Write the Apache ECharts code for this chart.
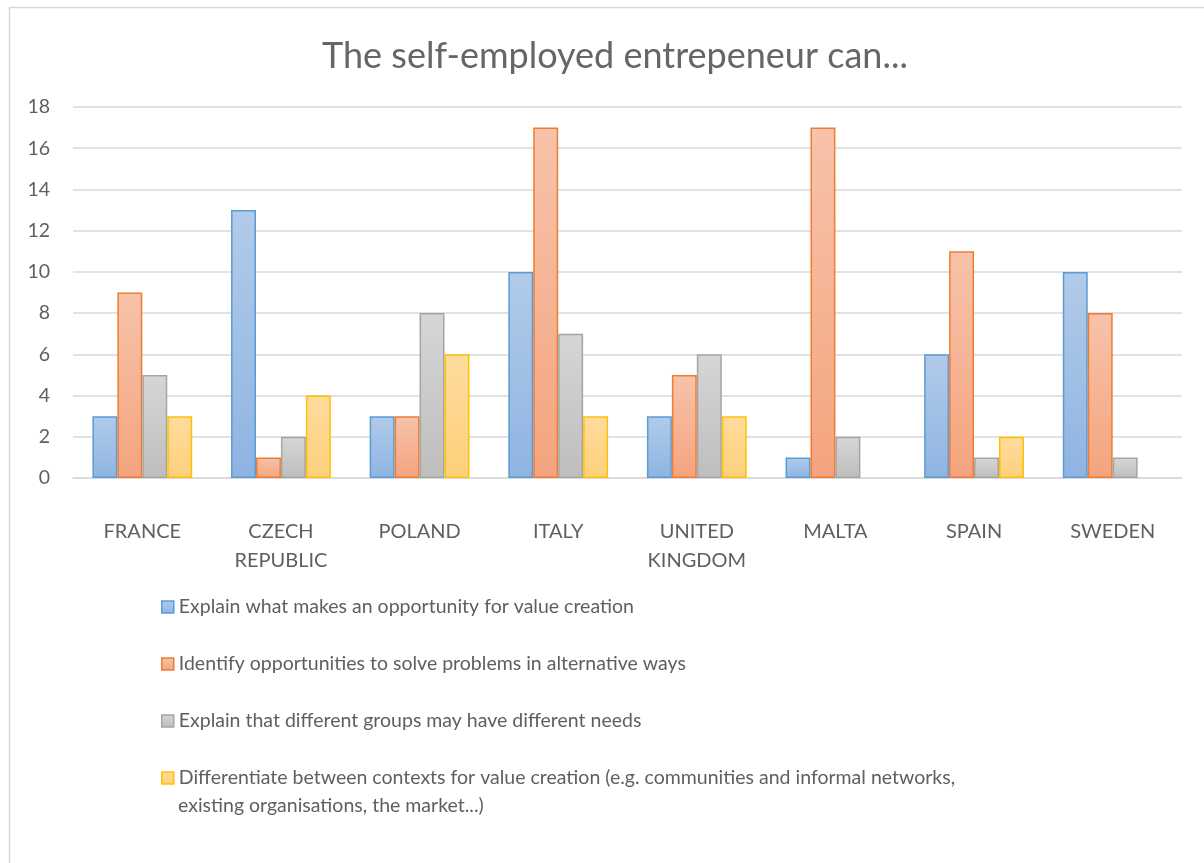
<!DOCTYPE html>
<html>
<head>
<meta charset="utf-8">
<script src="https://cdn.jsdelivr.net/npm/echarts@6/dist/echarts.min.js"></script>
<style>
  html, body { margin: 0; padding: 0; background: #fff; }
  #chart { width: 1204px; height: 863px; }
</style>
</head>
<body>
<div id="chart"></div>
<script>
// Countries surveyed
const countries = ['FRANCE', 'CZECH\nREPUBLIC', 'POLAND', 'ITALY', 'UNITED\nKINGDOM', 'MALTA', 'SPAIN', 'SWEDEN'];

// Statement labels
const seriesNames = [
  'Explain what makes an opportunity for value creation',
  'Identify opportunities to solve problems in alternative ways',
  'Explain that different groups may have different needs',
  'Differentiate between contexts for value creation (e.g. communities and informal networks, existing organisations, the market...)'
];
// The long statement is set on two lines, with the marker beside the first one
const longLineBreak = 'networks, ';

// Answer counts per country
const explainOpportunity = [3, 13, 3, 10, 3, 1, 6, 10];
const identifyAlternatives = [9, 1, 3, 17, 5, 17, 11, 8];
const differentNeeds = [5, 2, 8, 7, 6, 2, 1, 1];
const differentiateContexts = [3, 4, 6, 3, 3, null, 2, null];

const yTicks = [0, 2, 4, 6, 8, 10, 12, 14, 16, 18];

const FONT = 'Lato, "Open Sans", sans-serif';
const TEXT = '#5f5f5f';
const LEGEND_SIZE = 19.5;

const palette = [
  { top: '#b1cbe9', bottom: '#8fb4e2', border: '#5b9bd5' },
  { top: '#f7c3aa', bottom: '#f4a47e', border: '#ed7d31' },
  { top: '#d6d6d6', bottom: '#bebebe', border: '#a5a5a5' },
  { top: '#ffdc9e', bottom: '#fdd07a', border: '#ffc000' }
];

function grad(p) {
  return new echarts.graphic.LinearGradient(0, 0, 0, 1, [
    { offset: 0, color: p.top },
    { offset: 1, color: p.bottom }
  ]);
}

const dataSets = [explainOpportunity, identifyAlternatives, differentNeeds, differentiateContexts];

const series = dataSets.map((d, i) => ({
  name: seriesNames[i],
  type: 'bar',
  data: d,
  barGap: '0%',
  barCategoryGap: '28%',
  itemStyle: {
    color: grad(palette[i]),
    borderColor: palette[i].border,
    borderWidth: 1.5
  },
  emphasis: { disabled: true }
}));

function splitLong(name) {
  const k = name.indexOf(longLineBreak);
  if (k < 0) return [name, ''];
  return [name.slice(0, k + longLineBreak.length - 1), name.slice(k + longLineBreak.length)];
}

// One legend block per statement, stacked down the page
const legendTops = [588, 645, 702, 759];
const LEGEND_LEFT = 156;
const legends = seriesNames.map((name, i) => ({
  data: [name],
  orient: 'vertical',
  left: LEGEND_LEFT,
  top: legendTops[i],
  itemWidth: 12,
  itemHeight: 12,
  icon: 'rect',
  selectedMode: false,
  formatter: (n) => splitLong(n)[0],
  textStyle: { color: TEXT, fontFamily: FONT, fontSize: LEGEND_SIZE, lineHeight: 28 },
  itemStyle: { borderWidth: 1.5 }
}));

const chart = echarts.init(document.getElementById('chart'), null, { renderer: 'canvas' });

chart.setOption({
  animation: false,
  backgroundColor: '#ffffff',
  graphic: [{
    type: 'rect',
    shape: { x: 9.5, y: 7.5, width: 1210, height: 870 },
    style: { fill: 'none', stroke: '#d9d9d9', lineWidth: 1.5 },
    silent: true,
    z: -1
  }, {
    // continuation line of the long statement
    type: 'text',
    left: LEGEND_LEFT + 22,
    top: legendTops[3] + 33,
    style: {
      text: splitLong(seriesNames[3])[1],
      fill: TEXT,
      font: LEGEND_SIZE + 'px ' + FONT,
      lineHeight: 28
    },
    silent: true
  }],
  title: {
    text: 'The self-employed entrepeneur can...',
    left: 610,
    textAlign: 'center',
    top: 33,
    textStyle: { fontFamily: FONT, fontSize: 36, fontWeight: 'normal', color: '#666666' }
  },
  grid: { left: 73, right: 22, top: 107, bottom: 385, containLabel: false },
  xAxis: {
    type: 'category',
    data: countries,
    axisLine: { show: true, lineStyle: { color: '#d9d9d9', width: 1.5 } },
    axisTick: { show: false },
    axisLabel: {
      color: TEXT, fontFamily: FONT, fontSize: 20, lineHeight: 29, margin: 39,
      interval: 0
    }
  },
  yAxis: {
    type: 'value',
    min: yTicks[0],
    max: yTicks[yTicks.length - 1],
    interval: 2,
    axisLine: { show: false },
    axisTick: { show: false },
    splitLine: { lineStyle: { color: '#d9d9d9', width: 1.5 } },
    axisLabel: { color: TEXT, fontFamily: FONT, fontSize: 19.5, margin: 23 }
  },
  legend: legends,
  series: series
});
</script>
</body>
</html>
